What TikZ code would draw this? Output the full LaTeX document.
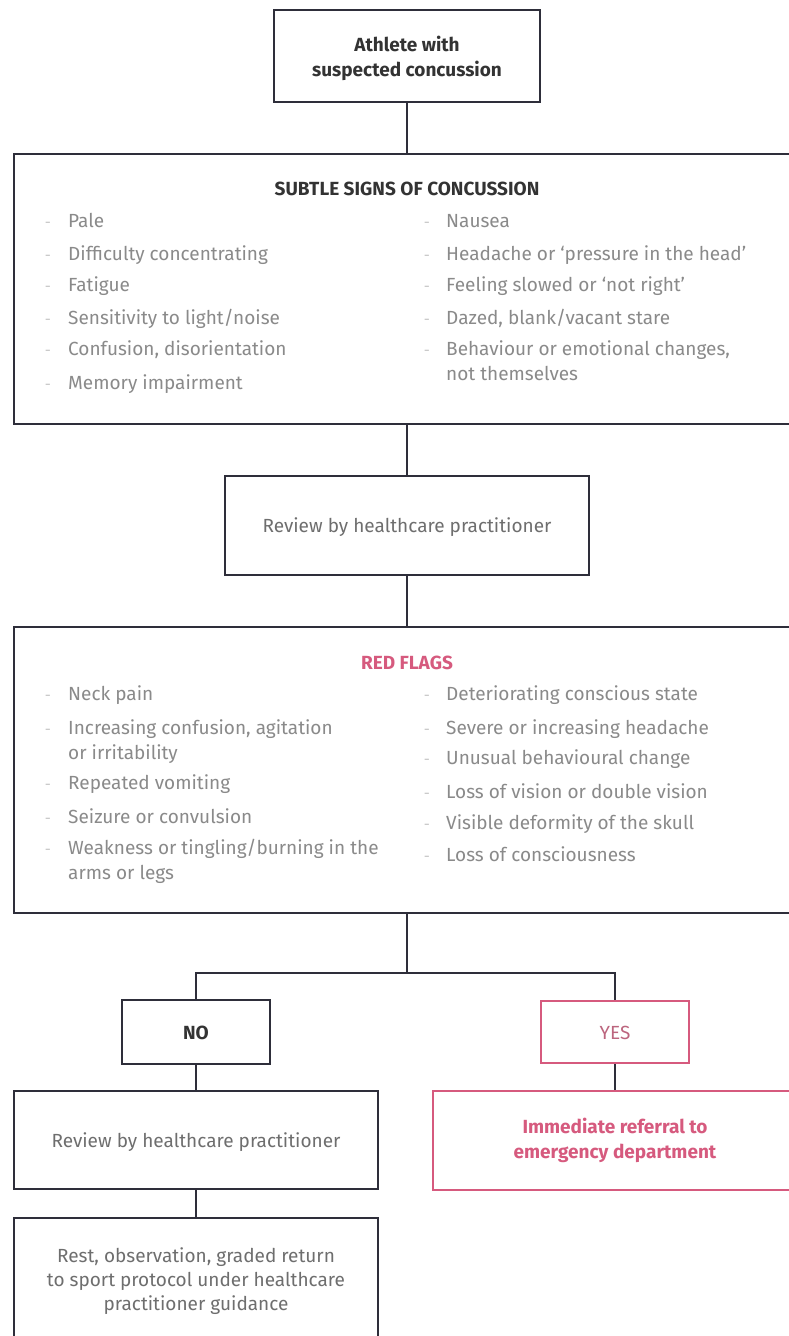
\documentclass[tikz,border=0pt]{standalone}
\usepackage{fontspec}
\setmainfont{Fira Sans}
\definecolor{boxc}{HTML}{2E2E3A}
\definecolor{pinkc}{HTML}{D65A7E}
\definecolor{itemc}{HTML}{8A8A8A}
\definecolor{revc}{HTML}{6E6E6E}
\definecolor{headc}{HTML}{333333}
\definecolor{bulc}{HTML}{C4C4C4}
\begin{document}
\begin{tikzpicture}[x=1pt,y=-1pt,
  box/.style={draw=boxc, line width=2.6pt, rectangle, inner sep=0pt, fill=white},
  pbox/.style={draw=pinkc, line width=2.6pt, rectangle, inner sep=0pt, fill=white},
  conn/.style={draw=boxc, line width=2.2pt},
  itm/.style={anchor=mid west, inner sep=0pt, text=itemc, font=\fontsize{19}{23}\selectfont},
  bul/.style={anchor=mid, inner sep=0pt, text=bulc, font=\fontsize{15}{18}\selectfont},
  head/.style={anchor=mid, inner sep=0pt, font=\bfseries\fontsize{19}{23}\selectfont},
  plain/.style={anchor=center, inner sep=0pt, align=center, font=\fontsize{19}{25}\selectfont}
]
\useasboundingbox (0,0) rectangle (788,1336);
\fill[white] (0,0) rectangle (788,1336);

% boxes
\node[box, minimum width=266pt, minimum height=92pt] (top) at (407,56) {};
\node[box, minimum width=786pt, minimum height=270pt] (subtle) at (407,289) {};
\node[box, minimum width=364pt, minimum height=99pt] (rev) at (407,525.5) {};
\node[box, minimum width=786pt, minimum height=286pt] (red) at (407,770) {};
\node[box, minimum width=148pt, minimum height=64pt] (no) at (196,1032) {};
\node[pbox, minimum width=148pt, minimum height=62pt] (yes) at (615,1032) {};
\node[box, minimum width=364pt, minimum height=98pt] (rev2) at (196,1140) {};
\node[pbox, minimum width=364pt, minimum height=99pt] (imm) at (615,1140.5) {};
\node[box, minimum width=364pt, minimum height=142pt] (rest) at (196,1289) {};

% connectors
\coordinate (split) at (407,973);
\draw[conn] (top.south) -- (subtle.north);
\draw[conn] (subtle.south) -- (rev.north);
\draw[conn] (rev.south) -- (red.north);
\draw[conn] (red.south) -- (split);
\draw[conn] (no.north) |- (split) -| (yes.north);
\draw[conn] (no.south) -- (rev2.north);
\draw[conn] (yes.south) -- (imm.north);
\draw[conn] (rev2.south) -- (rest.north);

% top text
\node[plain, text=headc, font=\bfseries\fontsize{19}{25}\selectfont] (toptxt) at (407,58.5) {Athlete with\\suspected concussion};

% subtle
\node[head, text=headc] (subtitle) at (407,193) {SUBTLE SIGNS OF CONCUSSION};
\foreach \y/\t [count=\i] in {225/Pale, 258/Difficulty concentrating, 289/Fatigue, 322/{Sensitivity to light/noise}, 353/{Confusion, disorientation}, 387/Memory impairment}{
  \node[bul] (sbl\i) at (48,\y) {-};
  \node[itm] (sl\i) at (68,\y) {\t};
}
\foreach \y/\t [count=\i] in {225/Nausea, 258/Headache or ‘pressure in the head’, 289/Feeling slowed or ‘not right’, 322/{Dazed, blank/vacant stare}, 353/{Behaviour or emotional changes,}}{
  \node[bul] (sbr\i) at (427,\y) {-};
  \node[itm] (sr\i) at (446,\y) {\t};
}
\node[itm] (sr6) at (446,378) {not themselves};

% review
\node[plain, text=revc] (revtxt) at (407,527) {Review by healthcare practitioner};

% red flags
\node[head, text=pinkc] (redtitle) at (407,667) {RED FLAGS};
\foreach \y/\t [count=\i] in {698/Neck pain, 732/{Increasing confusion, agitation}, 787/Repeated vomiting, 821/Seizure or convulsion, 852/{Weakness or tingling/burning in the}}{
  \node[bul] (rbl\i) at (48,\y) {-};
  \node[itm] (rl\i) at (68,\y) {\t};
}
\node[itm] (rl6) at (68,757) {or irritability};
\node[itm] (rl7) at (68,877) {arms or legs};
\foreach \y/\t [count=\i] in {698/Deteriorating conscious state, 732/Severe or increasing headache, 762/Unusual behavioural change, 796/Loss of vision or double vision, 827/Visible deformity of the skull, 859/Loss of consciousness}{
  \node[bul] (rbr\i) at (427,\y) {-};
  \node[itm] (rr\i) at (446,\y) {\t};
}

% bottom
\node[plain, text=headc, font=\bfseries\fontsize{19}{25}\selectfont] (notxt) at (196,1033) {NO};
\node[plain, text=pinkc!70!gray] (yestxt) at (615,1033) {YES};
\node[plain, text=revc] (rev2txt) at (196,1142) {Review by healthcare practitioner};
\node[plain, text=pinkc, font=\bfseries\fontsize{19}{25}\selectfont] (immtxt) at (615,1140.5) {Immediate referral to\\emergency department};
\node[plain, text=revc, font=\fontsize{19}{24}\selectfont] (resttxt) at (196,1281) {Rest, observation, graded return\\to sport protocol under healthcare\\practitioner guidance};
\end{tikzpicture}
\end{document}
